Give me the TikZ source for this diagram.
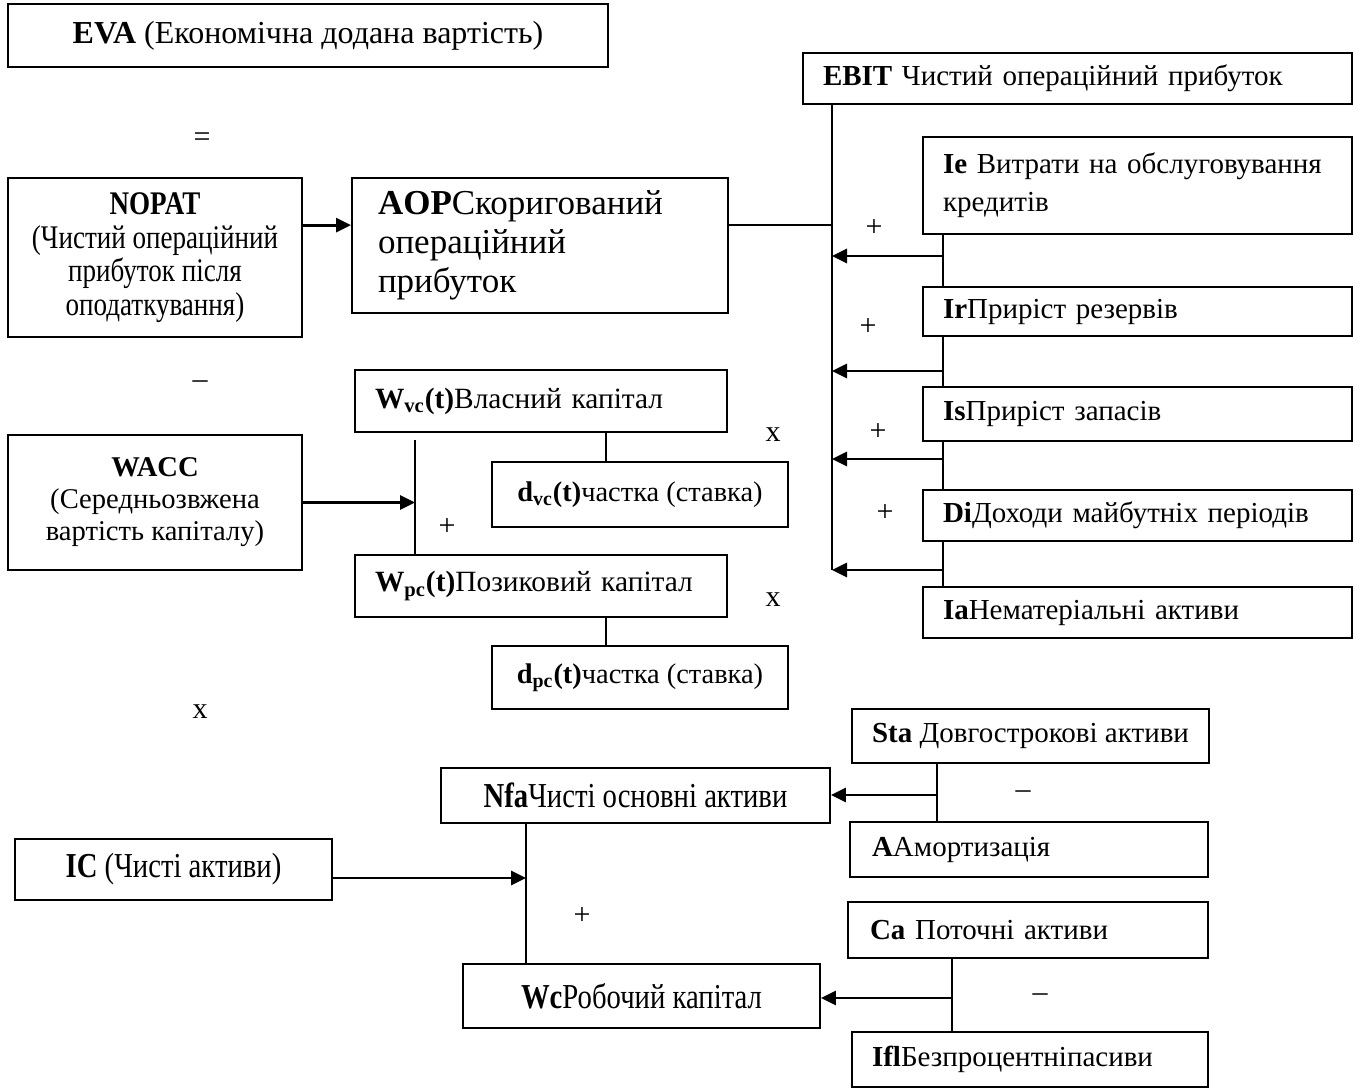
\documentclass[tikz,border=0pt]{standalone}
\usepackage{fontspec}
\setmainfont{Liberation Serif}
\newfontfamily\narrowfont[FakeStretch=0.82]{Liberation Serif}
\usetikzlibrary{arrows.meta}

\begin{document}
\begin{tikzpicture}[x=0.5pt, y=-0.5pt,
    box/.style={draw, line width=0.9pt, inner sep=0pt, align=center},
    lbox/.style={box, align=left},
    narrow/.style={font=\narrowfont\fontsize{17.5}{17}\selectfont},
    plain/.style={font=\fontsize{14.5}{19}\selectfont},
    rcol/.style={lbox, plain, text width=194.5pt, inner xsep=10pt},
    line/.style={line width=0.8pt},
    arr/.style={line width=1.4pt, -{Triangle[length=7.5pt,width=7pt]}},
    sign/.style={font=\fontsize{15}{18}\selectfont, inner sep=0pt}]

  \useasboundingbox (0,0) rectangle (1363,1088);

  % EVA and NOPAT
  \node[box, font=\fontsize{16}{18}\selectfont, minimum width=300pt, minimum height=31.5pt]
    (eva) at (308,35.5) {\textbf{EVA} (Економічна додана вартість)};
  \node[sign] (eq) at (202,140) {=};
  \node[box, font=\narrowfont\fontsize{16.5}{16.75}\selectfont, minimum width=147pt,
    minimum height=79.5pt] (nopat) at (155,257.5)
    {\textbf{NOPAT}\\(Чистий операційний\\прибуток після\\оподаткування)};
  \node[lbox, font=\fontsize{17.5}{19.5}\selectfont, text width=162pt,
    inner xsep=13pt, minimum height=67.5pt] (aop) at (540,245.5)
    {\textbf{AOP}Скоригований\\операційний\\прибуток};
  \draw[arr] ([yshift=-24pt]nopat.north east) -- ([yshift=-24pt]aop.north west);

  % EBIT and its corrections
  \node[lbox, plain, text width=254.5pt, inner xsep=10pt, minimum height=25.5pt] (ebit)
    at (1077.5,78.5) {\textbf{EBIT} Чистий операційний прибуток};
  \node[rcol, minimum height=48.5pt] (ie) at (1137.5,185.5)
    {\textbf{Ie} Витрати на обслуговування\\кредитів};
  \node[rcol, minimum height=24.5pt] (ir) at (1137.5,311.5) {\textbf{Ir}Приріст резервів};
  \node[rcol, minimum height=27pt] (is) at (1137.5,414) {\textbf{Is}Приріст запасів};
  \node[rcol, minimum height=25.5pt] (di) at (1137.5,515.5) {\textbf{Di}Доходи майбутніх періодів};
  \node[rcol, minimum height=25.5pt] (ia) at (1137.5,612.5) {\textbf{Ia}Нематеріальні активи};

  \coordinate (bus) at (832,104);
  \coordinate (a1) at (943,256);
  \coordinate (a2) at (943,371);
  \coordinate (a3) at (943,459);
  \coordinate (a4) at (943,570);
  \draw[line] (bus) -- (bus |- a4);
  \draw[line] ([yshift=-24pt]aop.north east) -- ([yshift=-24pt]aop.north east -| bus);
  \draw[line] (ie.south -| a1) -- (ir.north -| a1);
  \draw[line] (ir.south -| a2) -- (is.north -| a2);
  \draw[line] (is.south -| a3) -- (di.north -| a3);
  \draw[line] (di.south -| a4) -- (ia.north -| a4);
  \foreach \p in {a1,a2,a3,a4}
    \draw[arr] (\p) -- (\p -| bus);
  \node[sign] (p1) at (874,228) {+};
  \node[sign] (p2) at (868,327) {+};
  \node[sign] (p3) at (878,432) {+};
  \node[sign] (p4) at (885,513) {+};

  % WACC
  \node[sign] (minus1) at (200,385) {--};
  \node[box, font=\fontsize{14.3}{16}\selectfont, minimum width=147pt,
    minimum height=67.5pt] (wacc) at (155,502.5)
    {\textbf{WACC}\\(Середньозвжена\\вартість капіталу)};
  \node[lbox, font=\fontsize{14.7}{17}\selectfont, text width=166pt, inner xsep=10pt,
    minimum height=31pt] (wvc) at (541,401) {\textbf{W\textsubscript{vc}(t)}Власний капітал};
  \node[box, font=\fontsize{14.2}{17}\selectfont, minimum width=148pt, minimum height=32.5pt]
    (dvc) at (640,494.5) {\textbf{d\textsubscript{vc}(t)}частка (ставка)};
  \node[lbox, font=\fontsize{14.7}{17}\selectfont, text width=166pt, inner xsep=10pt,
    minimum height=31pt] (wpc) at (541,586) {\textbf{W\textsubscript{pc}(t)}Позиковий капітал};
  \node[box, font=\fontsize{14.2}{17}\selectfont, minimum width=148pt, minimum height=31.5pt]
    (dpc) at (640,677.5) {\textbf{d\textsubscript{pc}(t)}частка (ставка)};

  \coordinate (wbus) at (415,440);
  \draw[line] (wbus) -- (wbus |- wpc.north);
  \draw[arr] (wacc.east) -- (wacc.east -| wbus);
  \draw[line] ([xshift=-17pt]dvc.north) -- ([xshift=-17pt]dvc.north |- wvc.south);
  \draw[line] ([xshift=-17pt]dpc.north) -- ([xshift=-17pt]dpc.north |- wpc.south);
  \node[sign] (p5) at (447,527) {+};
  \node[sign] (x1) at (773,435) {x};
  \node[sign] (x2) at (773,600) {x};
  \node[sign] (x3) at (200,712) {x};

  % IC
  \node[box, plain, minimum width=178.5pt, minimum height=27pt] (sta)
    at (1030.5,736) {\textbf{Sta} Довгострокові активи};
  \node[box, narrow, minimum width=194.5pt, minimum height=27.5pt] (nfa) at (635.5,795.5)
    {\textbf{Nfa}Чисті основні активи};
  \node[lbox, plain, text width=157pt, inner xsep=11pt, minimum height=27.5pt] (am)
    at (1029,849.5) {\textbf{A}Амортизація};
  \node[box, narrow, minimum width=158.5pt, minimum height=30.5pt] (ic) at (173.5,869.5)
    {\textbf{IC} (Чисті активи)};
  \node[lbox, plain, text width=158pt, inner xsep=11pt, minimum height=28pt] (ca)
    at (1028,930) {\textbf{Ca} Поточні активи};
  \node[box, narrow, minimum width=178.5pt, minimum height=32pt] (wc) at (641.5,996)
    {\textbf{Wc}Робочий капітал};
  \node[lbox, plain, text width=158pt, inner xsep=10pt, minimum height=27.5pt] (ifl)
    at (1030,1059.5) {\textbf{Ifl}Безпроцентніпасиви};

  \coordinate (s1) at (937,795);
  \coordinate (icbus) at (526,878);
  \coordinate (c1) at (952,998);
  \draw[line] (sta.south -| s1) -- (am.north -| s1);
  \draw[arr] (s1) -- (nfa.east |- s1);
  \draw[arr] (ic.east |- icbus) -- (icbus);
  \draw[line] (nfa.south -| icbus) -- (wc.north -| icbus);
  \draw[line] (ca.south -| c1) -- (ifl.north -| c1);
  \draw[arr] (c1) -- (wc.east |- c1);
  \node[sign] (minus2) at (1023,795) {--};
  \node[sign] (p6) at (582,916) {+};
  \node[sign] (minus3) at (1040,998) {--};
\end{tikzpicture}
\end{document}
